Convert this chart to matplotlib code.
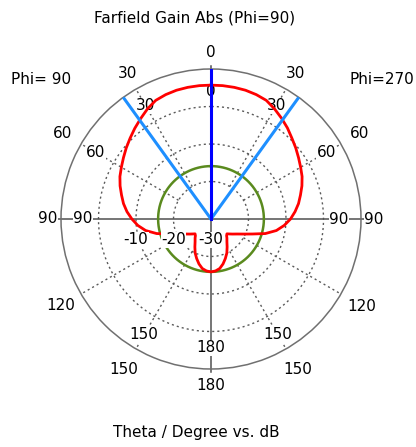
import numpy as np
import matplotlib
matplotlib.use("Agg")
import matplotlib.pyplot as plt

# Farfield gain cut, theta in degrees, gain in dB
theta_phi90 = [0, 5, 10, 15, 20, 25, 30, 35, 40, 45, 50, 55, 60, 65, 70, 75, 80, 85,
               90, 95, 100, 105, 110, 115, 120, 125, 130, 133, 137, 140, 145, 150,
               155, 160, 165, 170, 175, 180]
gain_phi90 = [5.7, 5.7, 5.65, 5.55, 5.3, 4.9, 3.9, 2.7, 1.6, 0.5, -0.5, -1.5, -2.4, -3.2,
              -4.2, -5.3, -6.3, -7.5, -8.9, -10.4, -12.3, -15.0, -18.3, -20.5, -22.0,
              -23.0, -23.8, -24.2, -23.9, -23.4, -22.6, -21.4, -20.0, -18.8, -17.6,
              -16.6, -16.1, -15.9]
theta_phi270 = [0, 5, 10, 15, 20, 25, 30, 35, 40, 45, 50, 55, 60, 65, 70, 75, 80, 85,
                90, 95, 100, 105, 110, 115, 120, 125, 130, 133, 137, 140, 145, 150,
                155, 160, 165, 170, 175, 180]
gain_phi270 = [5.7, 5.7, 5.65, 5.55, 5.3, 4.9, 3.9, 2.8, 1.7, 0.5, -0.5, -1.5, -2.4, -3.2,
               -4.2, -5.3, -6.3, -7.5, -8.8, -10.4, -12.3, -15.0, -18.3, -20.5, -22.0,
               -23.0, -23.8, -24.2, -23.9, -23.4, -22.6, -21.4, -20.0, -18.8, -17.6,
               -16.6, -16.1, -15.9]

main_lobe_dir = 0.0         # deg
beam_edges = [35.8, -35.8]  # 3 dB angular width edges, deg
side_lobe_level = -15.9     # dB

r_min, r_max = -30, 10
ring_levels = [-20, -10, 0]
db_labels = ["-10", "-20", "-30"]
db_label_values = [-10, -20, -30]

angle_ticks = [0, 30, 60, 90, 120, 150, 180]
outer_radii = [14.5, 14.8, 15.6, 13.5, 16.4, 16.4, 14.5]
inner_ticks = [0, 30, 60, 90, 150, 180]
inner_radii = [3.9, 4.9, 5.5, 4.1, 5.7, 4.4]

GRID = "#707070"
DOTS = "#5a5a5a"
AXIS = "#505050"
PX_PER_DB = 3.75

fig = plt.figure(figsize=(4.16, 4.47), dpi=100)
ax = fig.add_axes([61 / 416, 1 - 369 / 447, 300 / 416, 300 / 447], projection="polar")
ax.set_theta_zero_location("N")
ax.set_theta_direction(1)
ax.set_ylim(r_min, r_max)
ax.grid(False)
ax.set_xticks([])
ax.set_yticks([])
ax.spines["polar"].set_color(GRID)
ax.spines["polar"].set_linewidth(1.1)

# dotted level rings and spokes
full = np.linspace(0, 2 * np.pi, 721)
for lvl in ring_levels:
    ax.plot(full, np.full_like(full, lvl), color=DOTS, lw=1.0,
            linestyle=(0, (1.5, 2.2)), zorder=1)

for a in [30, 60, 120, 150, 210, 240, 300, 330]:
    t = np.deg2rad(a)
    ax.plot([t, t], [ring_levels[0], r_max], color=DOTS, lw=1.0,
            linestyle=(0, (1.5, 2.2)), zorder=1)

# solid cross through the centre
for a in [0, 90, 180, 270]:
    t = np.deg2rad(a)
    ax.plot([t, t], [r_min, r_max + 0.8], color=AXIS, lw=1.1, zorder=2, clip_on=False)

box = dict(facecolor="white", edgecolor="none", pad=0.3)
fs = 11


def polar_text(angle_deg, r, s):
    ax.text(np.deg2rad(angle_deg), r, s, ha="center", va="center", fontsize=fs,
            bbox=box, zorder=3, clip_on=False)


# outer theta labels (both half planes)
for a, r in zip(angle_ticks, outer_radii):
    polar_text(a, r, str(a))
    if a not in (0, 180):
        polar_text(360 - a, r, str(a))

# inner theta labels
for a, r in zip(inner_ticks, inner_radii):
    polar_text(a, r, str(a))
    if a not in (0, 180):
        polar_text(360 - a, r, str(a))

# dB scale labels, left of centre just below the horizontal axis
for s, v in zip(db_labels, db_label_values):
    px = 211 - (v - r_min) * PX_PER_DB
    fig.text(px / 416, 1 - 240 / 447, s, ha="center", va="center", fontsize=fs,
             bbox=box, zorder=5)

# gain curve: Phi=90 on the left half, Phi=270 on the right half
t90 = np.deg2rad(theta_phi90)
t270 = np.deg2rad(360 - np.array(theta_phi270))
theta_all = np.concatenate([t90, t270[::-1]])
gain_all = np.concatenate([gain_phi90, gain_phi270[::-1]])
ax.plot(theta_all, gain_all, color="#ff0000", lw=2.0, zorder=6)

ax.plot(full, np.full_like(full, side_lobe_level), color="#5a8a1e", lw=1.8, zorder=5)

for e in beam_edges:
    t = np.deg2rad(e)
    ax.plot([t, t], [r_min, r_max], color="#1e8fff", lw=2.2, zorder=7)
t = np.deg2rad(main_lobe_dir)
ax.plot([t, t], [r_min, r_max], color="#0000ff", lw=2.2, zorder=8)

fig.text(195 / 416, 1 - 18 / 447, "Farfield Gain Abs (Phi=90)", ha="center",
         va="center", fontsize=fs)
fig.text(41 / 416, 1 - 80 / 447, "Phi= 90", ha="center", va="center", fontsize=fs)
fig.text(382 / 416, 1 - 80 / 447, "Phi=270", ha="center", va="center", fontsize=fs)
fig.text(196 / 416, 1 - 432 / 447, "Theta / Degree vs. dB", ha="center",
         va="center", fontsize=fs)

fig.savefig("out.png", dpi=100)
